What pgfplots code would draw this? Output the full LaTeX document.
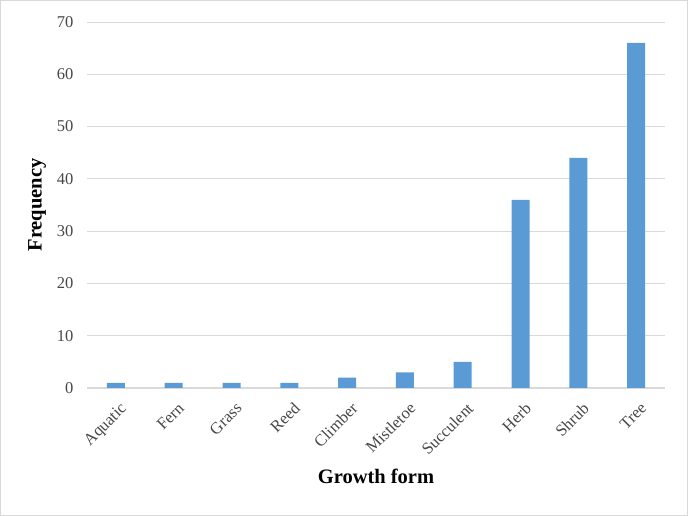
\documentclass[border=0pt]{standalone}
\usepackage{pgfplots}
\pgfplotsset{compat=1.18}
\usepackage{fontspec}
\setmainfont{Liberation Serif}
\definecolor{barblue}{HTML}{5B9BD5}
\definecolor{gridgray}{HTML}{D9D9D9}
\begin{document}
\begin{tikzpicture}[x=1bp,y=1bp]
\useasboundingbox (0,0) rectangle (688,516);
\draw[color=gridgray, line width=1.2bp] (0.8,0.8) rectangle (687.2,515.2);
\begin{axis}[
  at={(87bp,128bp)}, anchor=south west,
  scale only axis, width=578bp, height=366bp,
  ymin=0, ymax=70, ytick={0,10,...,70},
  xmin=-0.5, xmax=9.5,
  xtick={0,...,9},
  xticklabels={Aquatic,Fern,Grass,Reed,Climber,Mistletoe,Succulent,Herb,Shrub,Tree},
  x tick label style={rotate=45, anchor=north east, font=\fontsize{16.5bp}{18bp}\selectfont, text=black!72, inner sep=1bp, yshift=-11bp, xshift=-6bp},
  y tick label style={font=\fontsize{16.5bp}{18bp}\selectfont, text=black!72},
  /pgf/number format/assume math mode=true,
  axis x line*=bottom, axis y line*=left,
  x axis line style={draw=gridgray, line width=1bp},
  y axis line style={draw=none},
  major tick length=0pt,
  ymajorgrids, grid style={draw=gridgray, line width=0.9bp},
  xlabel={\textbf{Growth form}},
  ylabel={\textbf{Frequency}},
  xlabel style={font=\fontsize{20.5bp}{22bp}\selectfont, yshift=-8bp},
  ylabel style={font=\fontsize{20.5bp}{22bp}\selectfont, yshift=4bp},
  yticklabel style={xshift=-10bp},
  clip=false,
]
\addplot[ybar, bar width=18bp, fill=barblue, draw=none] coordinates {
(0,1) (1,1) (2,1) (3,1) (4,2) (5,3) (6,5) (7,36) (8,44) (9,66)
};
\end{axis}
\end{tikzpicture}
\end{document}
